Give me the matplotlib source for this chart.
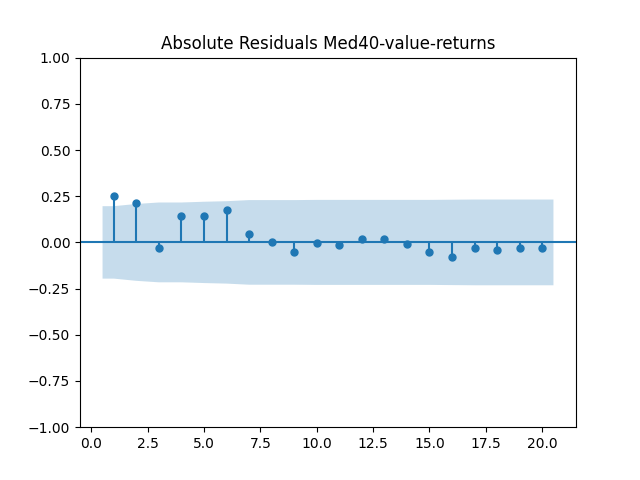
import numpy as np
import matplotlib.pyplot as plt

# autocorrelation of absolute residuals, lags 1..20
lags = np.arange(1, 21)
acf_vals = [0.250, 0.212, -0.032, 0.144, 0.144, 0.174, 0.046, 0.003, -0.053, -0.003,
            -0.014, 0.017, 0.017, -0.008, -0.053, -0.080, -0.032, -0.042, -0.032, -0.032]
# half-width of the 95% confidence band per lag
conf_half = [0.196, 0.208, 0.216, 0.216, 0.220, 0.223, 0.229, 0.229, 0.229, 0.230,
             0.230, 0.230, 0.230, 0.230, 0.230, 0.231, 0.232, 0.232, 0.232, 0.232]

fig, ax = plt.subplots(figsize=(6.4, 4.8), dpi=100)

ax.vlines(lags, [0], acf_vals)
ax.axhline()
ax.plot(lags, acf_vals, marker="o", markersize=5, linestyle="None")

# band extended by half a lag on each side, like statsmodels does
band_x = np.concatenate([[lags[0] - 0.5], lags, [lags[-1] + 0.5]])
band_h = np.array([conf_half[0]] + conf_half + [conf_half[-1]])
ax.fill_between(band_x, -band_h, band_h, alpha=0.25, linewidth=0)

ax.margins(0.05)
ax.set_ylim(-1, 1)
ax.set_title("Absolute Residuals Med40-value-returns")

fig.savefig("out.png")
